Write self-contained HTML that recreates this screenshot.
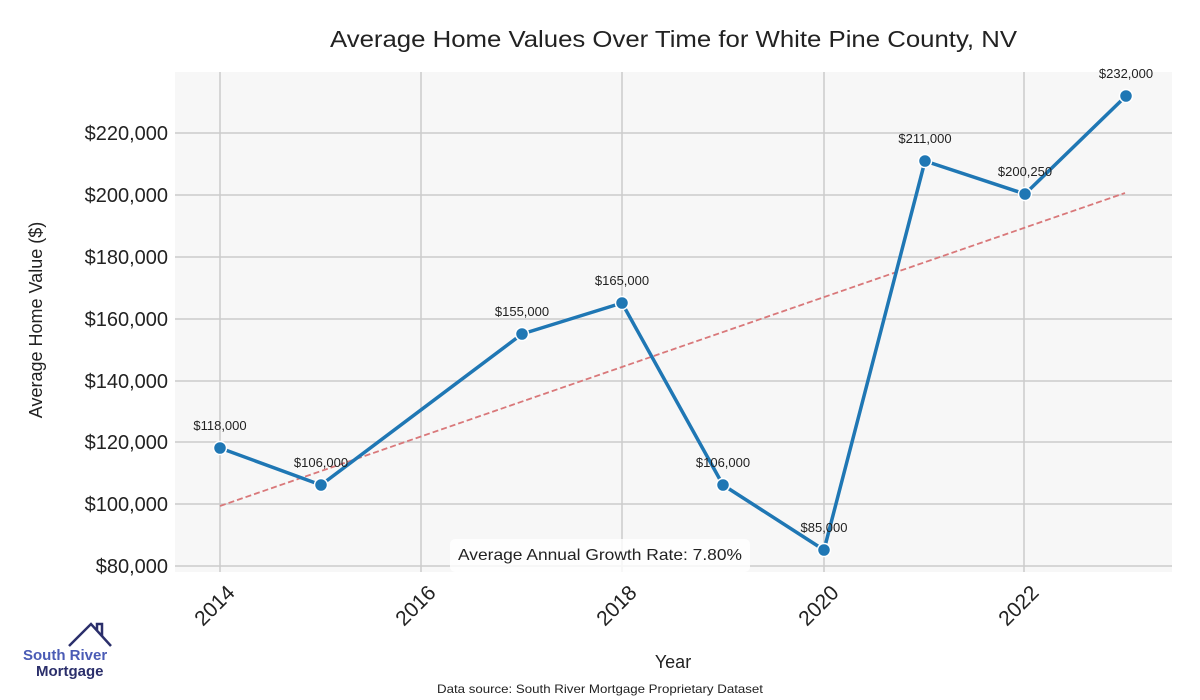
<!DOCTYPE html>
<html><head><meta charset="utf-8"><style>body{margin:0;background:#fff}svg{display:block}text{font-family:"Liberation Sans",sans-serif}</style></head><body>
<svg width="1200" height="700" viewBox="0 0 1200 700" xmlns="http://www.w3.org/2000/svg">
<rect x="175" y="72" width="997" height="500" fill="#f7f7f7"/>
<g stroke="#cccccc" stroke-width="1.5">
<line x1="220" y1="72" x2="220" y2="572"/><line x1="421" y1="72" x2="421" y2="572"/><line x1="622" y1="72" x2="622" y2="572"/><line x1="824" y1="72" x2="824" y2="572"/><line x1="1024" y1="72" x2="1024" y2="572"/>
<line x1="175" y1="133" x2="1172" y2="133"/><line x1="175" y1="195" x2="1172" y2="195"/><line x1="175" y1="257" x2="1172" y2="257"/><line x1="175" y1="319" x2="1172" y2="319"/><line x1="175" y1="381" x2="1172" y2="381"/><line x1="175" y1="442" x2="1172" y2="442"/><line x1="175" y1="504" x2="1172" y2="504"/><line x1="175" y1="566" x2="1172" y2="566"/>
</g>
<line x1="220" y1="506" x2="1125" y2="193" stroke="#d9787a" stroke-width="1.8" stroke-dasharray="6,3"/>
<polyline fill="none" stroke="#1f77b4" stroke-width="3.5" stroke-linejoin="round" points="220,448 321,485 522,334 622,303 723,485 824,550 925,161 1025,194 1126,96"/>
<g fill="#1f77b4" stroke="#fff" stroke-width="1.5">
<circle cx="220" cy="448" r="6.5"/><circle cx="321" cy="485" r="6.5"/><circle cx="522" cy="334" r="6.5"/><circle cx="622" cy="303" r="6.5"/><circle cx="723" cy="485" r="6.5"/><circle cx="824" cy="550" r="6.5"/><circle cx="925" cy="161" r="6.5"/><circle cx="1025" cy="194" r="6.5"/><circle cx="1126" cy="96" r="6.5"/>
</g>
<g font-size="13" fill="#222" text-anchor="middle">
<text x="220" y="430">$118,000</text><text x="321" y="467">$106,000</text><text x="522" y="316">$155,000</text><text x="622" y="285">$165,000</text><text x="723" y="467">$106,000</text><text x="824" y="532">$85,000</text><text x="925" y="143">$211,000</text><text x="1025" y="176">$200,250</text><text x="1126" y="78">$232,000</text>
</g>
<rect x="450" y="539" width="300" height="33" rx="5" fill="#fff" fill-opacity="0.8"/>
<text x="458" y="560" font-size="16" fill="#222" textLength="284" lengthAdjust="spacingAndGlyphs">Average Annual Growth Rate: 7.80%</text>
<g font-size="20" fill="#222" text-anchor="end">
<text x="168" y="140">$220,000</text><text x="168" y="202">$200,000</text><text x="168" y="264">$180,000</text><text x="168" y="326">$160,000</text><text x="168" y="388">$140,000</text><text x="168" y="449">$120,000</text><text x="168" y="511">$100,000</text><text x="168" y="573">$80,000</text>
</g>
<g font-size="21" fill="#222" text-anchor="end">
<text transform="translate(236,594) rotate(-45)">2014</text><text transform="translate(437,594) rotate(-45)">2016</text><text transform="translate(638,594) rotate(-45)">2018</text><text transform="translate(840,594) rotate(-45)">2020</text><text transform="translate(1040,594) rotate(-45)">2022</text>
</g>
<text x="673" y="668" font-size="18" fill="#222" text-anchor="middle">Year</text>
<text transform="translate(42,320) rotate(-90)" font-size="18" fill="#222" text-anchor="middle">Average Home Value ($)</text>
<text x="330" y="47" font-size="23" fill="#222" textLength="687" lengthAdjust="spacingAndGlyphs">Average Home Values Over Time for White Pine County, NV</text>
<text x="437" y="693" font-size="12" fill="#222" textLength="326" lengthAdjust="spacingAndGlyphs">Data source: South River Mortgage Proprietary Dataset</text>
<polyline points="69,646 91,624 111,646" fill="none" stroke="#2b2f6b" stroke-width="2.5"/>
<polyline points="97,630 97,624 102,624 102,636" fill="none" stroke="#2b2f6b" stroke-width="2.5"/>
<text x="23" y="660" font-size="15" font-weight="bold" fill="#4a5bb5">South River</text>
<text x="36" y="676" font-size="15" font-weight="bold" fill="#2b2f6b">Mortgage</text>
</svg>
</body></html>
